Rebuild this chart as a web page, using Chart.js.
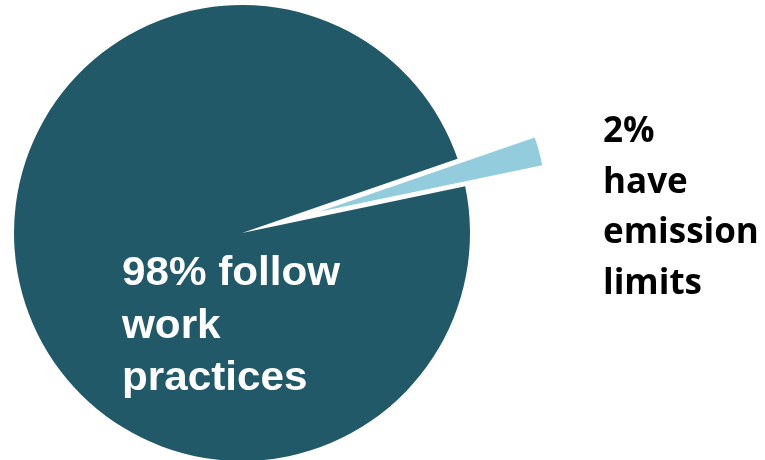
<!DOCTYPE html>
<html lang="en">
<head>
    <meta charset="UTF-8">
    <title>Work practices vs emission limits</title>
    <script src="https://cdn.jsdelivr.net/npm/chart.js"></script>
    <style>
        body { margin: 0; padding: 0; background: #fff; overflow: hidden; }
        #chart-container { position: absolute; left: 0; top: 0; width: 765px; height: 460px; }
    </style>
</head>
<body>

<div id="chart-container">
    <canvas id="pieChart"></canvas>
</div>

<script>
    // Share of sources
    const categories = ['follow work practices', 'have emission limits'];
    const shares = [98, 2];
    const sliceColors = ['#225969', '#93CDDD'];
    const labelLines = [
        ['98% follow', 'work', 'practices'],
        ['2%', 'have', 'emission', 'limits']
    ];

    // pull the small slice out of the pie by this many px
    const explode = [0, 80];

    const explodePlugin = {
        id: 'explode',
        afterDatasetsUpdate(chart) {
            const meta = chart.getDatasetMeta(0);
            meta.data.forEach((arc, i) => {
                const d = explode[i] || 0;
                if (!d) return;
                const mid = (arc.startAngle + arc.endAngle) / 2;
                arc.x += Math.cos(mid) * d;
                arc.y += Math.sin(mid) * d;
            });
        }
    };

    const labelPlugin = {
        id: 'sliceLabels',
        afterDatasetsDraw(chart) {
            const ctx = chart.ctx;
            const pie = chart.getDatasetMeta(0).data[0];
            const cx = pie.x, cy = pie.y;
            ctx.save();
            ctx.textBaseline = 'alphabetic';
            ctx.textAlign = 'left';

            // label inside the big slice
            ctx.fillStyle = '#ffffff';
            ctx.font = 'bold 41px "Liberation Sans", Arial, sans-serif';
            labelLines[0].forEach((line, i) => {
                ctx.save();
                ctx.translate(cx - 120, cy + 52 + i * 52.5);
                ctx.scale(1.03, 1);
                ctx.fillText(line, 0, 0);
                ctx.restore();
            });

            // label beside the small slice
            ctx.fillStyle = '#000000';
            ctx.font = 'bold 35px "Open Sans", sans-serif';
            labelLines[1].forEach((line, i) => {
                ctx.fillText(line, cx + 361, cy - 91 + i * 50.5);
            });
            ctx.restore();
        }
    };

    const ctx = document.getElementById('pieChart').getContext('2d');
    const pieChart = new Chart(ctx, {
        type: 'pie',
        data: {
            labels: categories,
            datasets: [{
                data: shares,
                backgroundColor: sliceColors,
                borderWidth: 0,
                clip: false
            }]
        },
        options: {
            responsive: true,
            maintainAspectRatio: false,
            animation: false,
            events: [],
            rotation: 78.2,
            radius: 228,
            layout: { padding: { left: 0, right: 281, top: 6, bottom: 0 } },
            plugins: {
                legend: { display: false },
                tooltip: { enabled: false }
            }
        },
        plugins: [explodePlugin, labelPlugin]
    });
</script>

</body>
</html>
